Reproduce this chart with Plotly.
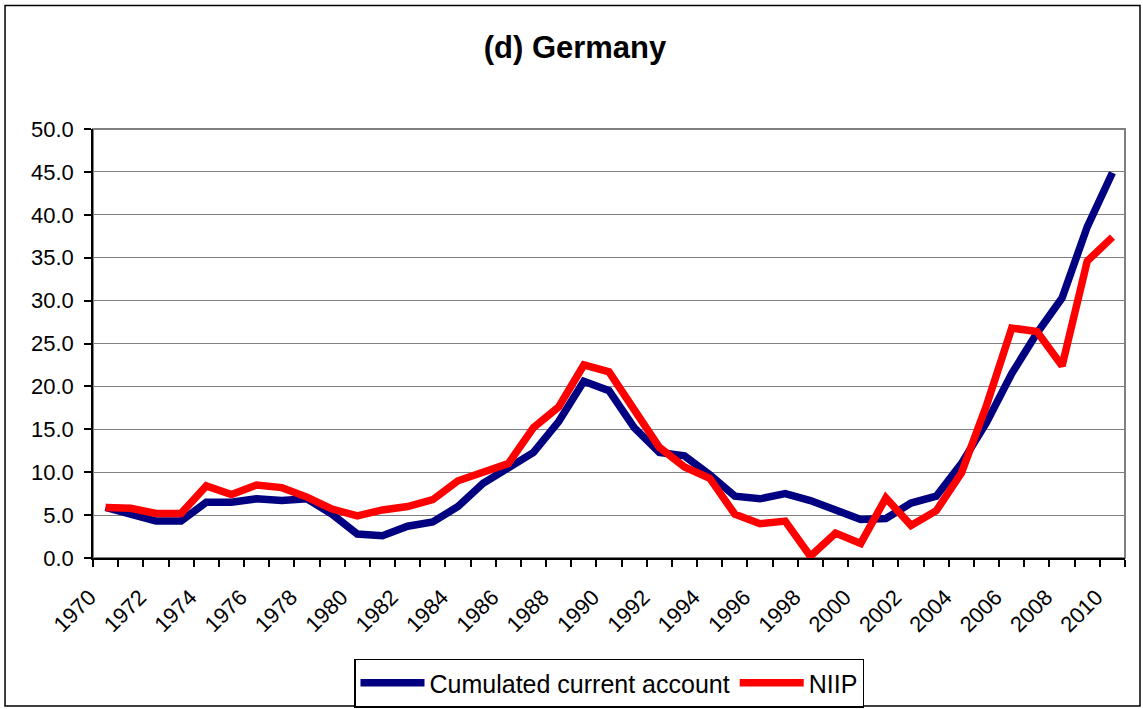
import plotly.graph_objects as go

# 数据（从图中读取，占GDP百分比）
years = list(range(1970, 2011))
cum_current_account = [
    5.9, 5.1, 4.3, 4.3, 6.5, 6.5, 6.9, 6.7, 6.9, 5.1,
    2.8, 2.6, 3.7, 4.2, 6.0, 8.7, 10.4, 12.3, 15.9, 20.6,
    19.5, 15.2, 12.3, 11.9, 9.7, 7.2, 6.9, 7.5, 6.7, 5.6,
    4.5, 4.6, 6.4, 7.2, 11.0, 15.8, 21.5, 26.2, 30.3, 38.6, 44.9,
]
niip = [
    5.9, 5.8, 5.2, 5.2, 8.4, 7.4, 8.5, 8.2, 7.1, 5.7,
    4.9, 5.6, 6.0, 6.8, 9.0, 9.9, 11.0, 15.2, 17.6, 22.5,
    21.7, 17.3, 12.9, 10.6, 9.3, 5.1, 4.0, 4.3, 0.2, 2.9,
    1.7, 7.0, 3.8, 5.5, 9.9, 17.8, 26.8, 26.4, 22.4, 34.6, 37.4,
]
x_labels = years[::2]

W, H = 1143, 709
L, R, T, B = 92.5, 18, 128.7, 150.7
pw, ph = W - L - R, H - T - B

font_family = "Arial, Liberation Sans, sans-serif"

fig = go.Figure()

fig.add_trace(
    go.Scatter(
        x=years,
        y=cum_current_account,
        mode="lines",
        name="Cumulated current account",
        line=dict(color="#000080", width=7.5),
    )
)
fig.add_trace(
    go.Scatter(
        x=years,
        y=niip,
        mode="lines",
        name="NIIP",
        line=dict(color="#FF0000", width=7.5),
    )
)

fig.update_layout(
    width=W,
    height=H,
    margin=dict(l=L, r=R, t=T, b=B, pad=0, autoexpand=False),
    paper_bgcolor="white",
    plot_bgcolor="white",
    font=dict(family=font_family, color="black", size=22),
    title=dict(
        text="<b>(d) Germany</b>",
        x=575 / W,
        xanchor="center",
        y=1 - 47 / H,
        yanchor="middle",
        yref="container",
        font=dict(size=31, family=font_family, color="black"),
    ),
    showlegend=True,
    legend=dict(
        orientation="h",
        x=0.5,
        xanchor="center",
        y=(T + ph - 659) / ph,
        yanchor="top",
        bordercolor="black",
        borderwidth=1.5,
        bgcolor="white",
        font=dict(size=25, family=font_family, color="black"),
        itemwidth=64,
        tracegroupgap=0,
    ),
)

# 外框与绘图区边框
fig.add_shape(
    type="rect",
    xref="paper", yref="paper",
    x0=(4.5 - L) / pw, x1=(1140 - L) / pw,
    y0=(T + ph - 706.5) / ph, y1=(T + ph - 5) / ph,
    line=dict(color="black", width=1.5),
    layer="below",
)
fig.add_shape(
    type="rect",
    xref="paper", yref="paper",
    x0=0, x1=1, y0=0, y1=1,
    line=dict(color="#808080", width=2),
    layer="below",
)

fig.update_xaxes(
    range=[years[0] - 0.5, years[-1] + 0.5],
    tickmode="array",
    tickvals=x_labels,
    ticktext=[str(y) for y in x_labels],
    tickangle=-45,
    ticks="",
    ticklabelstandoff=16,
    ticklabelshift=-16,
    showgrid=False,
    zeroline=False,
    showline=True,
    linecolor="black",
    linewidth=1.5,
    tickfont=dict(size=22),
    minor=dict(
        tick0=years[0] - 0.5,
        dtick=1,
        ticks="outside",
        ticklen=7,
        tickcolor="black",
        tickwidth=1.5,
        showgrid=False,
    ),
)
fig.update_yaxes(
    range=[0, 50],
    dtick=5,
    tickformat=".1f",
    ticks="outside",
    ticklen=7,
    tickcolor="black",
    tickwidth=1.5,
    ticklabelstandoff=6,
    showgrid=True,
    gridcolor="#808080",
    gridwidth=1.2,
    zeroline=False,
    showline=True,
    linecolor="black",
    linewidth=1.5,
    tickfont=dict(size=22),
)

fig.write_html(
    "out.html",
    config={"displayModeBar": False},
    post_script="document.body.style.margin='0';",
)
